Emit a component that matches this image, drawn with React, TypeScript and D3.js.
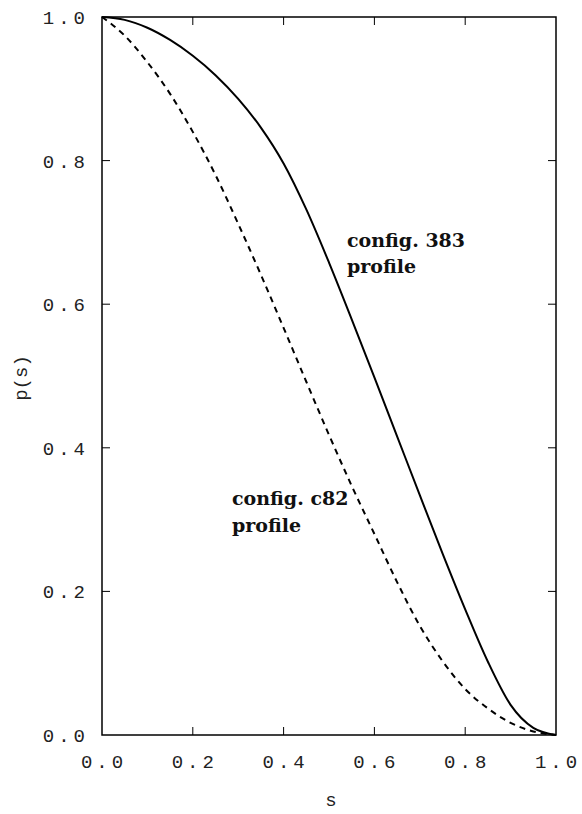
import * as d3 from 'd3';

const sValues = [0, 0.05, 0.1, 0.15, 0.2, 0.25, 0.3, 0.35, 0.4, 0.45, 0.5, 0.55, 0.6, 0.65, 0.7, 0.75, 0.8, 0.85, 0.9, 0.95, 1.0];
const profile383 = [1, 0.996, 0.985, 0.968, 0.946, 0.919, 0.886, 0.846, 0.796, 0.732, 0.658, 0.579, 0.498, 0.416, 0.334, 0.253, 0.175, 0.102, 0.042, 0.01, 0];
const profileC82 = [1, 0.974, 0.937, 0.893, 0.84, 0.78, 0.712, 0.641, 0.567, 0.492, 0.418, 0.347, 0.28, 0.213, 0.152, 0.103, 0.064, 0.037, 0.017, 0.005, 0];
const xTicks = [0, 0.2, 0.4, 0.6, 0.8, 1.0];
const yTicks = [0, 0.2, 0.4, 0.6, 0.8, 1.0];

const W = 582;
const H = 814;
const left = 102, right = 556, top = 17, bottom = 735;
const tickLen = 8;
const mono = '"Liberation Mono", "DejaVu Sans Mono", monospace';
const serif = '"DejaVu Serif", serif';
const spacing = 4;

export default function App() {
  const x = d3.scaleLinear().domain([0, 1]).range([left, right]);
  const y = d3.scaleLinear().domain([0, 1]).range([bottom, top]);

  const line = d3.line<number>()
    .x((_, i) => x(sValues[i]))
    .y(d => y(d))
    .curve(d3.curveMonotoneX);

  const inner = xTicks.filter(t => t > 0 && t < 1);
  const innerY = yTicks.filter(t => t > 0 && t < 1);

  return (
    <svg width={W} height={H} style={{ position: 'absolute', left: 0, top: 0, background: '#fff' }}>
      <rect x={left} y={top} width={right - left} height={bottom - top} fill="none" stroke="#000" strokeWidth={1.5} />
      {inner.map(t => (
        <g key={'xt' + t}>
          <line x1={x(t)} x2={x(t)} y1={bottom} y2={bottom - tickLen} stroke="#000" strokeWidth={1} />
          <line x1={x(t)} x2={x(t)} y1={top} y2={top + tickLen} stroke="#000" strokeWidth={1} />
        </g>
      ))}
      {innerY.map(t => (
        <g key={'yt' + t}>
          <line x1={left} x2={left + tickLen} y1={y(t)} y2={y(t)} stroke="#000" strokeWidth={1} />
          <line x1={right} x2={right - tickLen} y1={y(t)} y2={y(t)} stroke="#000" strokeWidth={1} />
        </g>
      ))}
      {xTicks.map(t => (
        <text key={'xl' + t} x={x(t) + spacing / 2} y={768} textAnchor="middle"
          fontFamily={mono} fontSize={19} letterSpacing={spacing} fill="#222">
          {t.toFixed(1)}
        </text>
      ))}
      {yTicks.map(t => (
        <text key={'yl' + t} x={85 + spacing} y={y(t) + 7} textAnchor="end"
          fontFamily={mono} fontSize={19} letterSpacing={spacing} fill="#222">
          {t.toFixed(1)}
        </text>
      ))}
      <text x={331} y={806} textAnchor="middle" fontFamily={mono} fontSize={19} fill="#222">s</text>
      <text transform="translate(27,378) rotate(-90)" textAnchor="middle"
        fontFamily={mono} fontSize={19} fill="#222">p(s)</text>

      <path d={line(profile383) || undefined} fill="none" stroke="#000" strokeWidth={2} />
      <path d={line(profileC82) || undefined} fill="none" stroke="#000" strokeWidth={2} strokeDasharray="6,5" />

      <g fontFamily={serif} fontWeight="bold" fontSize={19} fill="#111">
        <text x={347} y={247}>config. 383</text>
        <text x={347} y={273}>profile</text>
        <text x={232} y={505}>config. c82</text>
        <text x={232} y={532}>profile</text>
      </g>
    </svg>
  );
}
